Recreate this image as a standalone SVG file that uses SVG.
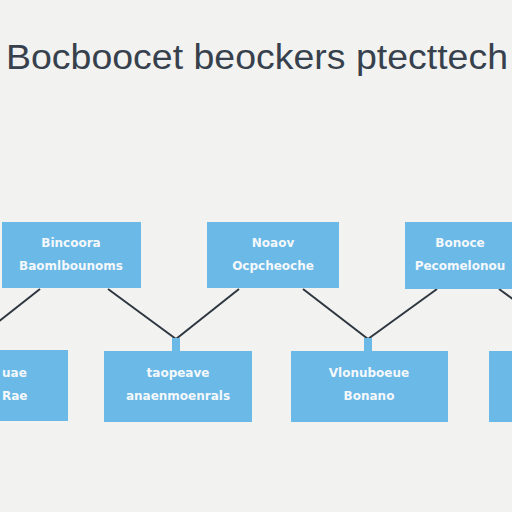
<svg xmlns="http://www.w3.org/2000/svg" width="512" height="512" viewBox="0 0 512 512">
<style>
.box{fill:#6bb9e7;}
.lbl{font-family:"DejaVu Sans",sans-serif;font-size:12px;font-weight:bold;fill:#f4f8fb;text-anchor:middle;}
.conn{stroke:#2e3640;stroke-width:2;fill:none;}
.stub{fill:#6bb9e7;}
.title{font-family:"Liberation Sans",Arial,sans-serif;font-size:35px;fill:#37414d;}
</style>
<rect width="512" height="512" fill="#f2f3f1"/>
<text class="title" x="6" y="69" textLength="502" lengthAdjust="spacingAndGlyphs">Bocboocet beockers ptecttech</text>
<g id="connectors">
<line class="conn" x1="40" y1="289" x2="-2" y2="322"/>
<line class="conn" x1="108" y1="289" x2="176" y2="339"/>
<line class="conn" x1="239" y1="289" x2="176" y2="339"/>
<line class="conn" x1="303" y1="289" x2="368" y2="339"/>
<line class="conn" x1="437" y1="289" x2="368" y2="339"/>
<line class="conn" x1="499" y1="289" x2="514" y2="300"/>
<rect class="stub" x="172" y="338" width="8" height="14"/>
<rect class="stub" x="364" y="338" width="8" height="14"/>
</g>
<g id="n1"><rect class="box" x="2" y="222" width="139" height="66"/><text class="lbl" x="71" y="247">Bincoora</text><text class="lbl" x="71" y="270">Baomlbounoms</text></g>
<g id="n2"><rect class="box" x="207" y="222" width="132" height="66"/><text class="lbl" x="273" y="247">Noaov</text><text class="lbl" x="273" y="270">Ocpcheoche</text></g>
<g id="n3"><rect class="box" x="405" y="222" width="110" height="67"/><text class="lbl" x="460" y="247">Bonoce</text><text class="lbl" x="460" y="270">Pecomelonou</text></g>
<g id="n4"><rect class="box" x="-4" y="350" width="72" height="71"/><text class="lbl" x="2" y="377" style="text-anchor:start">uae</text><text class="lbl" x="2" y="400" style="text-anchor:start">Rae</text></g>
<g id="n5"><rect class="box" x="104" y="351" width="148" height="71"/><text class="lbl" x="178" y="377">taopeave</text><text class="lbl" x="178" y="400">anaenmoenrals</text></g>
<g id="n6"><rect class="box" x="291" y="351" width="157" height="71"/><text class="lbl" x="369" y="377">Vlonuboeue</text><text class="lbl" x="369" y="400">Bonano</text></g>
<g id="n7"><rect class="box" x="489" y="351" width="27" height="71"/></g>
</svg>
